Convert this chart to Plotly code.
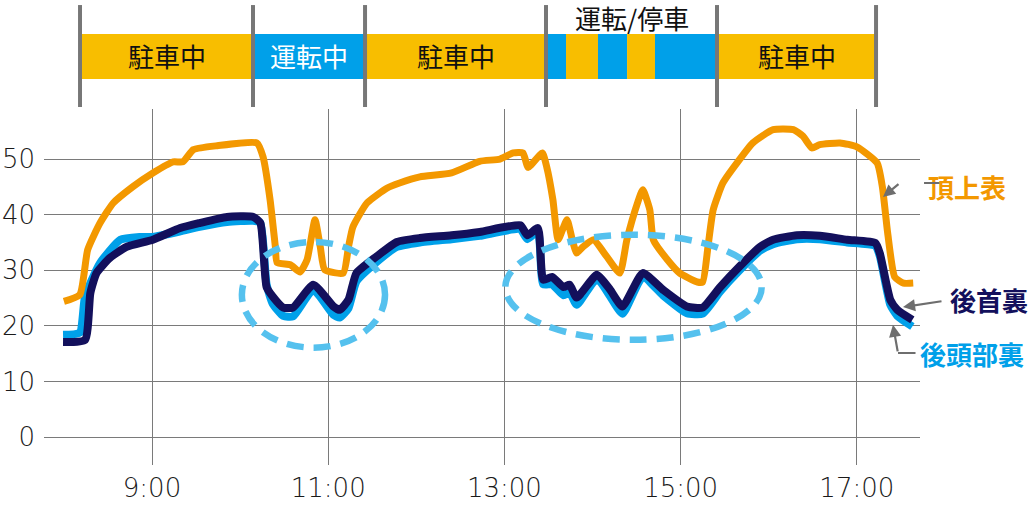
import plotly.graph_objects as go

# ---------------- data ----------------
tick_vals = [9, 11, 13, 15, 17]
tick_text = ["9:00", "11:00", "13:00", "15:00", "17:00"]
y_ticks = [0, 10, 20, 30, 40, 50]

# 頂上表 (top of head, surface)
t_top = [8.00, 8.18, 8.27, 8.41, 8.56, 8.78, 9.01, 9.24, 9.35, 9.47, 9.74, 10.19, 10.26, 10.34,
         10.40, 10.42, 10.57, 10.68, 10.76, 10.85, 10.91, 10.96, 11.17, 11.23, 11.28, 11.44,
         11.67, 11.81, 12.04, 12.40, 12.72, 12.95, 13.10, 13.21, 13.27, 13.43, 13.48, 13.55,
         13.61, 13.71, 13.77, 13.82, 13.89, 14.01, 14.16, 14.31, 14.39, 14.51, 14.57, 14.65,
         14.69, 14.85, 14.99, 15.19, 15.25, 15.31, 15.37, 15.48, 15.64, 15.82, 16.05, 16.28,
         16.39, 16.49, 16.58, 16.81, 17.00, 17.23, 17.29, 17.35, 17.43, 17.53, 17.64]
v_top = [24.4, 25.6, 33.7, 38.5, 42.1, 45.0, 47.5, 49.5, 49.5, 51.7, 52.4, 52.9, 50.4, 42.7,
         34.2, 31.4, 31.0, 29.7, 31.9, 39.1, 34.2, 30.1, 29.5, 34.2, 37.8, 42.1,
         44.8, 45.7, 46.8, 47.5, 49.6, 50.0, 51.1, 51.1, 48.5, 51.1, 48.6, 42.7,
         35.5, 39.1, 35.5, 33.1, 34.2, 35.5, 32.5, 29.5, 35.5, 42.1, 44.5, 40.9,
         35.5, 31.9, 29.5, 27.9, 27.9, 34.2, 40.9, 45.7, 49.3, 52.9, 55.3, 55.3,
         54.1, 52.0, 52.6, 52.9, 52.2, 49.3, 45.0, 36.7, 28.8, 27.7, 27.7]

# 後首裏 (back of neck)
t_neck = [7.99, 8.24, 8.30, 8.37, 8.52, 8.71, 9.01, 9.32, 9.54, 9.85, 10.15, 10.23, 10.30, 10.37,
          10.49, 10.60, 10.83, 11.06, 11.13, 11.23, 11.32, 11.55, 11.78, 12.04, 12.40, 12.72,
          13.18, 13.26, 13.38, 13.44, 13.54, 13.67, 13.74, 13.82, 14.05, 14.20, 14.34, 14.57,
          14.80, 15.07, 15.25, 15.45, 15.67, 15.90, 16.05, 16.32, 16.58, 16.89, 17.21, 17.26,
          17.38, 17.46, 17.63]
v_neck = [17.1, 17.5, 25.9, 29.5, 32.2, 34.2, 35.5, 37.6, 38.5, 39.6, 39.6, 38.5, 27.0, 25.3,
          23.3, 23.3, 27.4, 23.5, 22.9, 24.7, 29.5, 32.5, 35.1, 35.8, 36.3, 36.9,
          38.1, 36.3, 37.6, 28.3, 28.8, 27.0, 27.4, 25.1, 29.2, 26.5, 23.5, 29.5,
          26.5, 23.5, 23.3, 27.0, 30.7, 34.2, 35.5, 36.3, 36.2, 35.5, 34.9, 33.1,
          24.7, 22.9, 21.1]

# 後頭部裏 (back of head)
t_back = [7.99, 8.18, 8.24, 8.41, 8.64, 8.86, 9.01, 9.32, 9.54, 9.85, 10.15, 10.23, 10.30, 10.37,
          10.49, 10.60, 10.83, 11.06, 11.13, 11.23, 11.32, 11.55, 11.78, 12.04, 12.40, 12.72,
          13.18, 13.26, 13.38, 13.44, 13.54, 13.67, 13.74, 13.82, 14.05, 14.20, 14.34, 14.57,
          14.80, 15.07, 15.25, 15.45, 15.67, 15.90, 16.05, 16.32, 16.58, 16.89, 17.21, 17.26,
          17.38, 17.46, 17.63]
v_back = [18.4, 18.8, 25.3, 31.3, 35.5, 36.0, 36.0, 37.0, 37.8, 38.7, 38.9, 38.5, 27.5, 24.0,
          21.8, 21.7, 26.5, 22.0, 21.5, 23.2, 28.0, 31.5, 34.2, 35.0, 35.6, 36.2,
          37.4, 35.6, 37.0, 27.5, 27.5, 25.5, 26.0, 23.8, 28.5, 25.3, 22.2, 28.8,
          25.5, 22.3, 22.2, 26.2, 30.0, 33.5, 34.7, 35.6, 35.6, 35.0, 34.4, 32.6,
          23.8, 21.8, 19.9]

# vehicle state band
seg_start = [8.183, 10.146, 11.418, 13.472, 13.699, 14.062, 14.392, 14.709, 15.413]
seg_end = [10.146, 11.418, 13.472, 13.699, 14.062, 14.392, 14.709, 15.413, 17.218]
seg_state = ["park", "drive", "park", "drive", "park", "drive", "park", "drive", "park"]
group_bounds = [8.183, 10.146, 11.418, 13.472, 15.413, 17.218]
group_labels = ["駐車中", "運転中", "駐車中", "", "駐車中"]
group_label_colors = ["#111111", "#ffffff", "#111111", "#111111", "#111111"]
mixed_label = "運転/停車"

# highlighted regions (dashed ellipses): x0, x1, y0, y1
ellipses = [(10.02, 11.645, 16.1, 35.1), (13.01, 15.92, 17.5, 36.4)]

# ---------------- styles ----------------
C_TOP = "#F39800"
C_NECK = "#13105C"
C_BACK = "#00A0E9"
C_PARK = "#F8BE00"
C_DRIVE = "#00A0E9"
C_ELL = "#55C1EE"
C_GRID = "#7a7a7a"
C_SEP = "#777777"
JP = "Noto Sans CJK JP"
NUM = "DejaVu Sans"
SMOOTH = 0.5

fig = go.Figure()
fig.add_trace(go.Scatter(x=t_back, y=v_back, mode="lines",
                         line=dict(color=C_BACK, width=8, shape="spline", smoothing=SMOOTH),
                         hoverinfo="skip", name="後頭部裏"))
fig.add_trace(go.Scatter(x=t_neck, y=v_neck, mode="lines",
                         line=dict(color=C_NECK, width=8, shape="spline", smoothing=SMOOTH),
                         hoverinfo="skip", name="後首裏"))
fig.add_trace(go.Scatter(x=t_top, y=v_top, mode="lines",
                         line=dict(color=C_TOP, width=7, shape="spline", smoothing=SMOOTH),
                         hoverinfo="skip", name="頂上表"))

shapes = []
# state band
BAND_Y0, BAND_Y1 = 1.0843, 1.2107
for s, e, st in zip(seg_start, seg_end, seg_state):
    shapes.append(dict(type="rect", xref="x", yref="paper", x0=s, x1=e, y0=BAND_Y0, y1=BAND_Y1,
                       fillcolor=C_PARK if st == "park" else C_DRIVE, line=dict(width=0),
                       layer="above"))
for b in group_bounds:
    shapes.append(dict(type="line", xref="x", yref="paper", x0=b, x1=b, y0=1.0056, y1=1.292,
                       line=dict(color=C_SEP, width=4), layer="above"))
for x0, x1, y0, y1 in ellipses:
    shapes.append(dict(type="circle", xref="x", yref="y", x0=x0, x1=x1, y0=y0, y1=y1,
                       line=dict(color=C_ELL, width=6.5, dash="17px,10px"), layer="above"))

annotations = []
for i, lab in enumerate(group_labels):
    if lab:
        annotations.append(dict(x=(group_bounds[i] + group_bounds[i + 1]) / 2, xref="x",
                                y=1.149, yref="paper", yanchor="middle", text=lab, showarrow=False,
                                font=dict(family=JP, size=26, color=group_label_colors[i])))
annotations.append(dict(x=(group_bounds[3] + group_bounds[4]) / 2, xref="x", y=1.258, yref="paper",
                        yanchor="middle", text=mixed_label, showarrow=False,
                        font=dict(family=JP, size=26, color="#111111")))

# series labels
annotations += [
    dict(x=1.0068, y=0.781, xref="paper", yref="paper", xanchor="left", yanchor="middle",
         text="<b>頂上表</b>", showarrow=False, font=dict(family=JP, size=26, color=C_TOP)),
    dict(x=1.032, y=0.4635, xref="paper", yref="paper", xanchor="left", yanchor="middle",
         text="<b>後首裏</b>", showarrow=False, font=dict(family=JP, size=26, color=C_NECK)),
    dict(x=0.9977, y=0.3146, xref="paper", yref="paper", xanchor="left", yanchor="middle",
         text="<b>後頭部裏</b>", showarrow=False, font=dict(family=JP, size=26, color=C_BACK)),
]
# pointer arrows
arrow_style = dict(showarrow=True, text="", arrowhead=2, arrowsize=1.1, arrowwidth=2.2,
                   arrowcolor="#6e6e6e", standoff=0, xref="x", yref="y", axref="pixel", ayref="pixel")
annotations += [
    dict(x=17.297, y=43.2, ax=17, ay=-14, **arrow_style),
    dict(x=17.524, y=23.4, ax=40, ay=-6, **arrow_style),
    dict(x=17.41, y=20.2, ax=5, ay=28, **arrow_style),
]
# horizontal leader segments
annotations += [
    dict(x=1.0046, y=0.7921, xref="paper", yref="paper", ax=17, ay=0, showarrow=True, text="",
         arrowhead=0, arrowwidth=2.2, arrowcolor="#6e6e6e", standoff=0),
    dict(x=0.9749, y=0.3146, xref="paper", yref="paper", ax=19, ay=0, showarrow=True, text="",
         arrowhead=0, arrowwidth=2.2, arrowcolor="#6e6e6e", standoff=0),
]

fig.update_layout(
    width=1030, height=510,
    margin=dict(l=44, r=110, t=109, b=45, autoexpand=False),
    paper_bgcolor="white", plot_bgcolor="white",
    showlegend=False,
    shapes=shapes, annotations=annotations,
    xaxis=dict(range=[7.774, 17.717], tickvals=tick_vals, ticktext=tick_text, automargin=False,
               showgrid=True, gridcolor=C_GRID, gridwidth=1, zeroline=False, showline=False,
               ticks="", ticklabelstandoff=5,
               tickfont=dict(family=NUM, size=26, color="#1a1a1a", weight=300)),
    yaxis=dict(range=[-5, 59], tickvals=y_ticks, showgrid=True, gridcolor=C_GRID, gridwidth=1,
               automargin=False,
               zeroline=False, showline=False, ticks="", ticklabelstandoff=8,
               tickfont=dict(family=NUM, size=26, color="#1a1a1a", weight=300)),
    hovermode=False,
)

fig.write_html("out.html", config={"displayModeBar": False, "staticPlot": True},
               post_script="document.body.style.margin='0';")
